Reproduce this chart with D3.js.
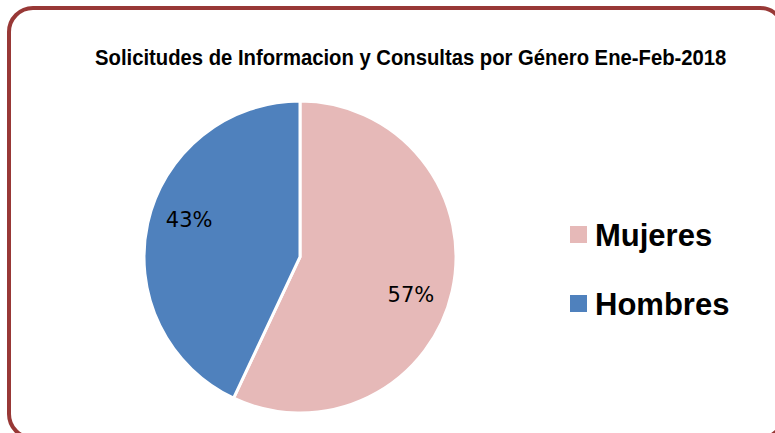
<!DOCTYPE html>
<html>
<head>
<meta charset="utf-8">
<script src="https://cdn.jsdelivr.net/npm/d3@7"></script>
<style>
  body { margin: 0; background: #fff; }
</style>
</head>
<body>
<svg id="chart"></svg>
<script>
const categories = ["Mujeres", "Hombres"];
const values = [57, 43];
const colors = ["#E6B9B8", "#4F81BD"];
const title = "Solicitudes de Informacion y Consultas por Género Ene-Feb-2018";

function init() {
  const width = 775,
    height = 433;

  const svg = d3.select("#chart").attr("width", width).attr("height", height);

  // frame
  svg
    .append("rect")
    .attr("x", 9)
    .attr("y", 8)
    .attr("width", 775)
    .attr("height", 430)
    .attr("rx", 24)
    .attr("fill", "#fff")
    .attr("stroke", "#983836")
    .attr("stroke-width", 4);

  // title, squeezed horizontally to look like a narrow font
  const titleText = svg
    .append("text")
    .attr("x", 0)
    .attr("y", 0)
    .style("font-family", "'Liberation Sans Narrow', 'Liberation Sans', Arial, sans-serif")
    .style("font-weight", "bold")
    .style("font-size", "23px")
    .attr("fill", "#000")
    .text(title);
  const natural = titleText.node().getComputedTextLength();
  titleText.attr("transform", `translate(95, 65) scale(${632 / natural}, 1)`);

  const radius = 156;
  const g = svg.append("g").attr("transform", "translate(300, 257)");

  const color = d3.scaleOrdinal().domain(categories).range(colors);

  const pie = d3.pie().sort(null).value((d) => d.value);
  const data_ready = pie(categories.map((c, i) => ({ name: c, value: values[i] })));

  const arcGenerator = d3.arc().innerRadius(0).outerRadius(radius);
  // labels sit a little clockwise of the slice middle
  const shift = 0.105;
  const labelArc = d3
    .arc()
    .innerRadius(117)
    .outerRadius(117)
    .startAngle((d) => d.startAngle + shift)
    .endAngle((d) => d.endAngle + shift);

  g.selectAll("path.slice")
    .data(data_ready)
    .join("path")
    .attr("class", "slice")
    .attr("d", arcGenerator)
    .attr("fill", (d) => color(d.data.name))
    .attr("stroke", "#fff")
    .style("stroke-width", "3px");

  g.selectAll("text.pct")
    .data(data_ready)
    .join("text")
    .attr("class", "pct")
    .text((d) => Math.round(d.data.value) + "%")
    .attr("transform", (d) => `translate(${labelArc.centroid(d)})`)
    .attr("dy", "0.36em")
    .style("text-anchor", "middle")
    .style("font-family", "'DejaVu Sans', sans-serif")
    .style("font-size", "21px")
    .attr("fill", "#000");

  // legend
  const legend = svg
    .selectAll("g.legend")
    .data(categories)
    .join("g")
    .attr("class", "legend")
    .attr("transform", (d, i) => `translate(570, ${226 + i * 69})`);

  legend
    .append("rect")
    .attr("width", 17)
    .attr("height", 17)
    .attr("fill", (d) => color(d));

  legend
    .append("text")
    .attr("x", 25)
    .attr("y", 20)
    .style("font-family", "'Liberation Sans', Arial, sans-serif")
    .style("font-weight", "bold")
    .style("font-size", "31px")
    .attr("fill", "#000")
    .text((d) => d);
}

init();
</script>
</body>
</html>
